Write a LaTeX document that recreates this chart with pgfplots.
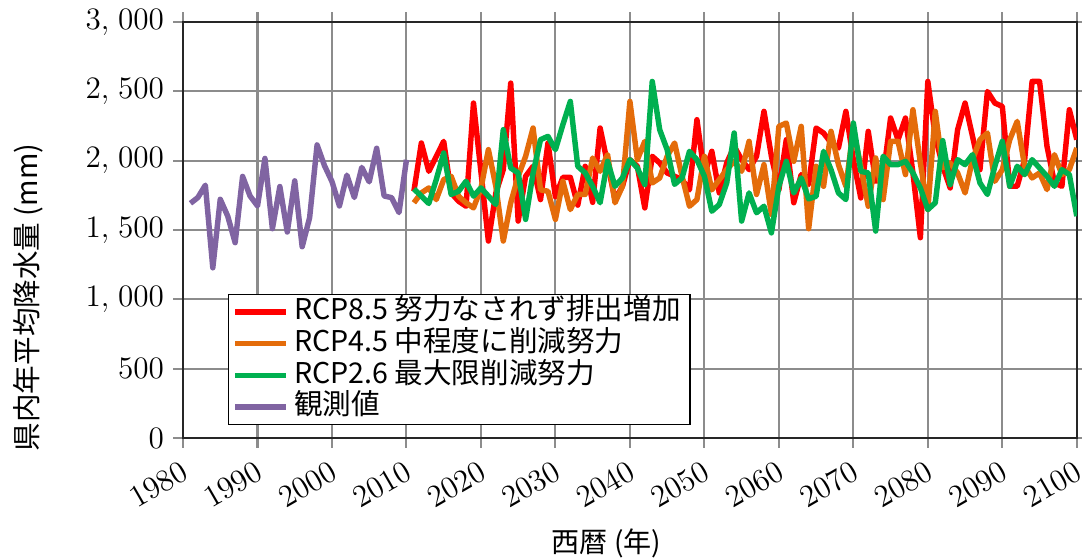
\documentclass[border=0pt]{standalone}
\usepackage{fontspec}
\usepackage{pgfplots}
\pgfplotsset{compat=1.18}
\newfontfamily\jp{Noto Sans CJK JP}
\definecolor{rcpred}{HTML}{FF0000}
\definecolor{rcporange}{HTML}{E46C0A}
\definecolor{rcpgreen}{HTML}{00B050}
\definecolor{obspurple}{HTML}{8064A2}
\definecolor{gridgray}{HTML}{8C8C8C}

\begin{document}
\begin{tikzpicture}
\begin{axis}[
  name=ax,
  scale only axis,
  width=343.8pt, height=160pt,
  xmin=1980, xmax=2100,
  ymin=0, ymax=3000,
  xtick={1980,1990,...,2100},
  ytick={0,500,...,3000},
  grid=major,
  grid style={gridgray, line width=0.8pt},
  axis line style={black!85, line width=0.9pt},
  tick align=outside,
  major tick length=3.8pt,
  tick style={gridgray, line width=0.8pt},
  ticklabel style={font=\fontsize{12}{14}\selectfont},
  xticklabel style={rotate=30, anchor=north east, /pgf/number format/1000 sep={}},
  yticklabel style={/pgf/number format/1000 sep={{,}\;}},
  xlabel={\jp 西暦 (年)},
  xlabel style={at={([yshift=-40.4pt]rel axis cs:0.474,0)}, anchor=center, font=\fontsize{10.8}{12}\selectfont},
  ylabel={\jp 県内年平均降水量 (mm)},
  ylabel style={at={([xshift=-59.6pt]rel axis cs:0,0.338)}, anchor=center, font=\fontsize{11}{12}\selectfont},
  legend cell align=left,
  legend image code/.code={\draw[#1] (0cm,0cm) -- (0.69cm,0cm);},
  legend style={at={(rel axis cs:0.05,0.031)}, anchor=south west,
    draw=black, line width=0.6pt, fill=white, inner xsep=1.5pt, inner ysep=0.6pt,
    font=\jp\fontsize{11}{12}\selectfont,
    nodes={text height=8pt, text depth=2pt, inner ysep=1.1pt}},
  every axis plot/.append style={line width=2.1pt, line join=round},
]
\addplot[rcpred] coordinates {
(2011,1780) (2012,2128) (2013,1924) (2014,2030) (2015,2140) (2016,1768) (2017,1708) (2018,1672) (2019,2416) (2020,1920)
(2021,1421) (2022,1768) (2023,1936) (2024,2560) (2025,1565) (2026,1888) (2027,1960) (2028,1720) (2029,2128) (2030,1740)
(2031,1880) (2032,1880) (2033,1680) (2034,1960) (2035,1700) (2036,2236) (2037,1980) (2038,1720) (2039,1816) (2040,2008)
(2041,1960) (2042,1660) (2043,2032) (2044,1984) (2045,1912) (2046,1888) (2047,1864) (2048,1790) (2049,2296) (2050,1900)
(2051,2068) (2052,1768) (2053,1984) (2054,2104) (2055,2008) (2056,1936) (2057,2032) (2058,2356) (2059,2032) (2060,1790)
(2061,2152) (2062,1697) (2063,1900) (2064,1830) (2065,2236) (2066,2200) (2067,2130) (2068,2092) (2069,2356) (2070,2008)
(2071,1732) (2072,2212) (2073,1852) (2074,1888) (2075,2308) (2076,2152) (2077,2308) (2078,1912) (2079,1445) (2080,2572)
(2081,2176) (2082,1960) (2083,1804) (2084,2224) (2085,2416) (2086,2176) (2087,1936) (2088,2500) (2089,2416) (2090,2392)
(2091,1816) (2092,1816) (2093,2008) (2094,2572) (2095,2572) (2096,2104) (2097,1840) (2098,1816) (2099,2368) (2100,2152)
};
\addlegendentry{RCP8.5 努力なされず排出増加}
\addplot[rcporange] coordinates {
(2011,1697) (2012,1768) (2013,1804) (2014,1720) (2015,1864) (2016,1888) (2017,1744) (2018,1697) (2019,1660) (2020,1800)
(2021,2080) (2022,1816) (2023,1421) (2024,1697) (2025,1888) (2026,2032) (2027,2236) (2028,1790) (2029,1780) (2030,1577)
(2031,1852) (2032,1648) (2033,1757) (2034,1757) (2035,2020) (2036,1924) (2037,2044) (2038,1697) (2039,1816) (2040,2428)
(2041,2008) (2042,2140) (2043,1840) (2044,1876) (2045,2032) (2046,2128) (2047,1888) (2048,1672) (2049,1720) (2050,2032)
(2051,1790) (2052,1864) (2053,1936) (2054,1996) (2055,1924) (2056,2140) (2057,1757) (2058,1972) (2059,1613) (2060,2248)
(2061,2272) (2062,1996) (2063,2248) (2064,1510) (2065,1960) (2066,1816) (2067,2212) (2068,1972) (2069,1816) (2070,2224)
(2071,1960) (2072,1672) (2073,2020) (2074,1720) (2075,2140) (2076,2140) (2077,1900) (2078,2368) (2079,1984) (2080,1648)
(2081,2356) (2082,1950) (2083,1984) (2084,1912) (2085,1768) (2086,2008) (2087,2152) (2088,2200) (2089,1852) (2090,1936)
(2091,2152) (2092,2284) (2093,1960) (2094,1876) (2095,1912) (2096,1792) (2097,2044) (2098,1900) (2099,1936) (2100,2092)
};
\addlegendentry{RCP4.5 中程度に削減努力}
\addplot[rcpgreen] coordinates {
(2011,1797) (2012,1745) (2013,1692) (2014,1864) (2015,2056) (2016,1757) (2017,1780) (2018,1852) (2019,1745) (2020,1804)
(2021,1745) (2022,1685) (2023,2224) (2024,1948) (2025,1912) (2026,1577) (2027,1912) (2028,2152) (2029,2176) (2030,2080)
(2031,2260) (2032,2428) (2033,1960) (2034,1912) (2035,1816) (2036,1697) (2037,1996) (2038,1816) (2039,1876) (2040,2008)
(2041,1948) (2042,1828) (2043,2572) (2044,2224) (2045,2080) (2046,1830) (2047,1876) (2048,2068) (2049,2008) (2050,1888)
(2051,1636) (2052,1684) (2053,1840) (2054,2200) (2055,1565) (2056,1768) (2057,1625) (2058,1672) (2059,1480) (2060,1816)
(2061,1996) (2062,1768) (2063,1876) (2064,1725) (2065,1744) (2066,2068) (2067,1936) (2068,1768) (2069,1720) (2070,2272)
(2071,1924) (2072,1912) (2073,1493) (2074,2032) (2075,1972) (2076,1972) (2077,1996) (2078,1912) (2079,1804) (2080,1648)
(2081,1697) (2082,2145) (2083,1828) (2084,2008) (2085,1972) (2086,2044) (2087,1840) (2088,1757) (2089,1960) (2090,2140)
(2091,1816) (2092,1960) (2093,1900) (2094,2008) (2095,1948) (2096,1888) (2097,1816) (2098,1936) (2099,1900) (2100,1600)
};
\addlegendentry{RCP2.6 最大限削減努力}
\addplot[obspurple] coordinates {
(1981,1693) (1982,1735) (1983,1824) (1984,1228) (1985,1722) (1986,1601) (1987,1409) (1988,1887) (1989,1746) (1990,1674)
(1991,2017) (1992,1510) (1993,1814) (1994,1486) (1995,1855) (1996,1380) (1997,1590) (1998,2114) (1999,1964) (2000,1850)
(2001,1674) (2002,1896) (2003,1735) (2004,1952) (2005,1848) (2006,2090) (2007,1746) (2008,1734) (2009,1626) (2010,2007)
};
\addlegendentry{観測値}
\end{axis}
\pgfresetboundingbox
\path[use as bounding box] ([shift={(-70.4pt,-45.8pt)}]ax.south west) rectangle ([shift={(345.8pt,168.5pt)}]ax.south west);
\end{tikzpicture}
\end{document}
